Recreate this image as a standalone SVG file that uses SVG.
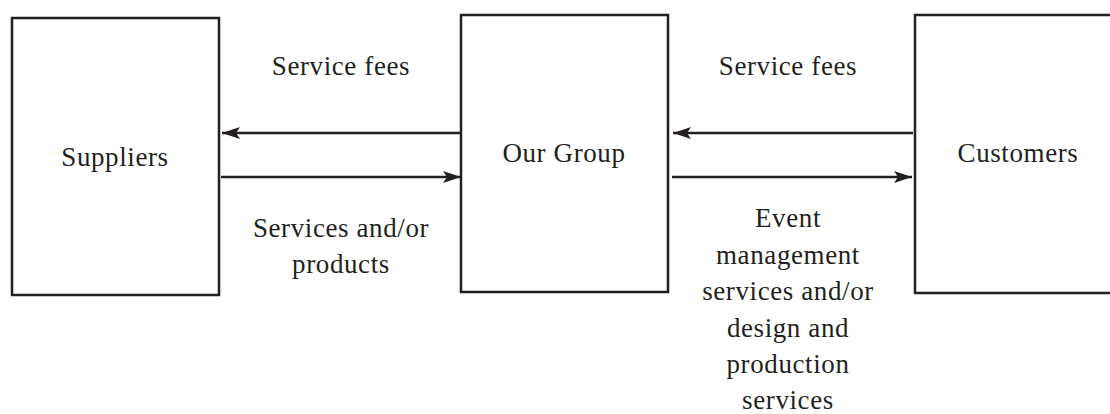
<svg xmlns="http://www.w3.org/2000/svg" width="1110" height="414" viewBox="0 0 1110 414">
<style>
.box{fill:#fff;stroke:#231f20;stroke-width:2.5}
.t{font-family:"Liberation Serif","Times New Roman",serif;font-size:27px;fill:#231f20;text-anchor:middle;letter-spacing:0.6px}
.c{stroke:#231f20;stroke-width:2.5;fill:none}
</style>
<defs>
<marker id="ah" markerUnits="userSpaceOnUse" markerWidth="20" markerHeight="14" refX="18" refY="7" orient="auto">
<path d="M0,1 L18,7 L0,13 L4,7 Z" fill="#231f20"/>
</marker>
</defs>
<rect width="1110" height="414" fill="#fff"/>
<g id="suppliers"><rect class="box" x="12" y="18" width="207" height="277"/><text class="t" x="115" y="166">Suppliers</text></g>
<g id="our-group"><rect class="box" x="461" y="15" width="207" height="277"/><text class="t" x="564" y="162">Our Group</text></g>
<g id="customers"><rect class="box" x="915" y="15" width="210" height="278"/><text class="t" x="1018" y="162">Customers</text></g>
<g id="connectors">
<line class="c" x1="461" y1="133" x2="222" y2="133" marker-end="url(#ah)"/>
<line class="c" x1="221" y1="177" x2="461" y2="177" marker-end="url(#ah)"/>
<line class="c" x1="913" y1="133" x2="673" y2="133" marker-end="url(#ah)"/>
<line class="c" x1="672" y1="177" x2="912" y2="177" marker-end="url(#ah)"/>
</g>
<g id="labels">
<text class="t" x="341" y="75">Service fees</text>
<text class="t" x="341" y="237">Services and/or</text>
<text class="t" x="341" y="273">products</text>
<text class="t" x="788" y="75">Service fees</text>
<text class="t" x="788" y="227">Event</text>
<text class="t" x="788" y="264">management</text>
<text class="t" x="788" y="300">services and/or</text>
<text class="t" x="788" y="337">design and</text>
<text class="t" x="788" y="373">production</text>
<text class="t" x="788" y="409">services</text>
</g>
</svg>
